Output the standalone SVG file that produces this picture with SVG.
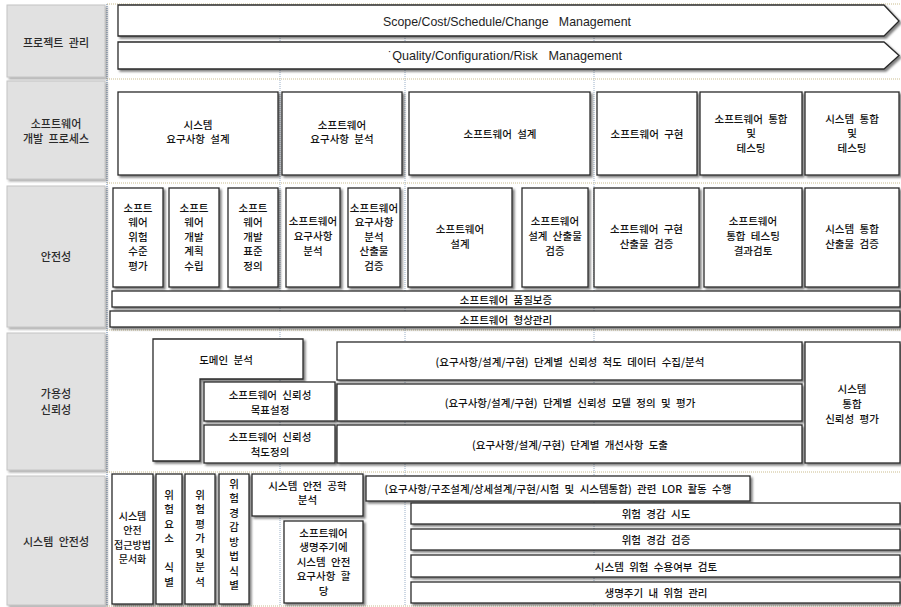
<svg xmlns="http://www.w3.org/2000/svg" width="901" height="607" viewBox="0 0 901 607">
<defs>
<filter id="sh" x="-20%" y="-20%" width="150%" height="150%">
<feDropShadow dx="2" dy="2" stdDeviation="0.8" flood-color="#000" flood-opacity="0.5"/>
</filter>
<filter id="sh2" x="-10%" y="-10%" width="125%" height="125%">
<feDropShadow dx="2" dy="2" stdDeviation="1" flood-color="#555" flood-opacity="0.5"/>
</filter>
</defs>
<style>
.box{fill:#fff;stroke:#2a2a2a;stroke-width:1.3;filter:url(#sh)}
.hdr{fill:#e1e1e1;stroke:#c4c4c4;stroke-width:1;filter:url(#sh2)}
.t{font-family:"Noto Sans CJK KR","Noto Sans",sans-serif;font-size:10.5px;font-weight:500;fill:#111;text-anchor:middle;dominant-baseline:central;word-spacing:3px}
.h{font-family:"Noto Sans CJK KR","Noto Sans",sans-serif;font-size:11px;font-weight:500;fill:#2a2a2a;text-anchor:middle;dominant-baseline:central;word-spacing:3px}
.e{font-family:"Liberation Sans",Arial,sans-serif;font-size:13px;fill:#1e1e1e;text-anchor:middle;dominant-baseline:central}
.gv{stroke:#9bb0c8;stroke-width:1;stroke-dasharray:1 1;fill:none}
.gv0{stroke:#5a7ca8;stroke-width:1;stroke-dasharray:1 1;fill:none}
.gh{stroke:#cbbd8e;stroke-width:1;stroke-dasharray:1 1;fill:none}
</style>
<rect width="901" height="607" fill="#fff"/>
<g id="connectors">
<line class="gv0" x1="107" y1="4" x2="107" y2="606"/>
<line class="gv" x1="280" y1="4" x2="280" y2="606"/>
<line class="gv" x1="405" y1="4" x2="405" y2="606"/>
<line class="gv" x1="594" y1="4" x2="594" y2="606"/>
<line class="gh" x1="107" y1="4" x2="900" y2="4"/>
<line class="gh" x1="107" y1="79" x2="900" y2="79"/>
<line class="gh" x1="107" y1="183" x2="900" y2="183"/>
<line class="gh" x1="107" y1="330" x2="900" y2="330"/>
<line class="gh" x1="107" y1="472" x2="900" y2="472"/>
<line class="gh" x1="107" y1="606" x2="900" y2="606"/>
</g>
<g id="hdr-project"><rect class="hdr" x="7" y="5" width="98" height="72"/><text class="h" x="56" y="42">프로젝트 관리</text></g>
<g id="hdr-process"><rect class="hdr" x="7" y="81" width="98" height="98"/><text class="h" x="56" y="123">소프트웨어</text><text class="h" x="56" y="137.5">개발 프로세스</text></g>
<g id="hdr-safety"><rect class="hdr" x="7" y="186" width="98" height="141"/><text class="h" x="56" y="256">안전성</text></g>
<g id="hdr-reliability"><rect class="hdr" x="7" y="333" width="98" height="137"/><text class="h" x="56" y="393">가용성</text><text class="h" x="56" y="409">신뢰성</text></g>
<g id="hdr-syssafety"><rect class="hdr" x="7" y="476" width="98" height="129"/><text class="h" x="56" y="541">시스템 안전성</text></g>

<g id="pm-scope"><polygon class="box" points="118,5 884,5 899,21 884,36 118,36"/><text class="e" x="507" y="21" xml:space="preserve" textLength="248" lengthAdjust="spacingAndGlyphs">Scope/Cost/Schedule/Change   Management</text></g>
<g id="pm-quality"><polygon class="box" points="118,42 884,42 899,55.5 884,69 118,69"/><text class="e" x="505" y="55" xml:space="preserve" textLength="234" lengthAdjust="spacingAndGlyphs">˙Quality/Configuration/Risk   Management</text></g>

<g id="p-sysreq"><rect class="box" x="118" y="92" width="160" height="83"/><text class="t" x="198" y="124">시스템</text><text class="t" x="198" y="138.5">요구사항 설계</text></g>
<g id="p-swreq"><rect class="box" x="282" y="92" width="120" height="83"/><text class="t" x="342" y="124">소프트웨어</text><text class="t" x="342" y="138.5">요구사항 분석</text></g>
<g id="p-swdesign"><rect class="box" x="409" y="92" width="181" height="83"/><text class="t" x="500" y="133">소프트웨어 설계</text></g>
<g id="p-swimpl"><rect class="box" x="597" y="92" width="100" height="83"/><text class="t" x="647" y="133">소프트웨어 구현</text></g>
<g id="p-swint"><rect class="box" x="700" y="92" width="102" height="83"/><text class="t" x="751" y="118">소프트웨어 통합</text><text class="t" x="751" y="132.5">및</text><text class="t" x="751" y="147">테스팅</text></g>
<g id="p-sysint"><rect class="box" x="805" y="92" width="94" height="83"/><text class="t" x="852" y="118">시스템 통합</text><text class="t" x="852" y="132.5">및</text><text class="t" x="852" y="147">테스팅</text></g>

<g id="s-risk"><rect class="box" x="113" y="188" width="50" height="99"/><text class="t" x="138" y="207">소프트</text><text class="t" x="138" y="221.5">웨어</text><text class="t" x="138" y="236">위험</text><text class="t" x="138" y="250.5">수준</text><text class="t" x="138" y="265">평가</text></g>
<g id="s-plan"><rect class="box" x="169" y="188" width="50" height="99"/><text class="t" x="194" y="207">소프트</text><text class="t" x="194" y="221.5">웨어</text><text class="t" x="194" y="236">개발</text><text class="t" x="194" y="250.5">계획</text><text class="t" x="194" y="265">수립</text></g>
<g id="s-std"><rect class="box" x="228" y="188" width="50" height="99"/><text class="t" x="253" y="207">소프트</text><text class="t" x="253" y="221.5">웨어</text><text class="t" x="253" y="236">개발</text><text class="t" x="253" y="250.5">표준</text><text class="t" x="253" y="265">정의</text></g>
<g id="s-req"><rect class="box" x="286" y="188" width="54" height="99"/><text class="t" x="313" y="220">소프트웨어</text><text class="t" x="313" y="235">요구사항</text><text class="t" x="313" y="250">분석</text></g>
<g id="s-reqv"><rect class="box" x="348" y="188" width="52" height="99"/><text class="t" x="374" y="207">소프트웨어</text><text class="t" x="374" y="221.5">요구사항</text><text class="t" x="374" y="236">분석</text><text class="t" x="374" y="250.5">산출물</text><text class="t" x="374" y="265">검증</text></g>
<g id="s-design"><rect class="box" x="408" y="188" width="104" height="99"/><text class="t" x="460" y="228">소프트웨어</text><text class="t" x="460" y="243">설계</text></g>
<g id="s-designv"><rect class="box" x="522" y="188" width="66" height="99"/><text class="t" x="555" y="220">소프트웨어</text><text class="t" x="555" y="235">설계 산출물</text><text class="t" x="555" y="250">검증</text></g>
<g id="s-implv"><rect class="box" x="594" y="188" width="105" height="99"/><text class="t" x="646.5" y="228">소프트웨어 구현</text><text class="t" x="646.5" y="243">산출물 검증</text></g>
<g id="s-intv"><rect class="box" x="704" y="188" width="98" height="99"/><text class="t" x="753" y="220">소프트웨어</text><text class="t" x="753" y="235">통합 테스팅</text><text class="t" x="753" y="250">결과검토</text></g>
<g id="s-sysintv"><rect class="box" x="805" y="188" width="94" height="99"/><text class="t" x="852" y="228">시스템 통합</text><text class="t" x="852" y="243">산출물 검증</text></g>
<g id="s-qa"><rect class="box" x="112" y="291" width="788" height="16"/><text class="t" x="506" y="299">소프트웨어 품질보증</text></g>
<g id="s-cm"><rect class="box" x="110" y="311" width="790" height="16"/><text class="t" x="506" y="319">소프트웨어 형상관리</text></g>

<g id="r-domain"><polygon class="box" points="153,339 303,339 303,379 200,379 200,461 153,461"/><text class="t" x="226" y="359">도메인 분석</text></g>
<g id="r-goal"><rect class="box" x="204" y="382" width="131" height="39"/><text class="t" x="270" y="394">소프트웨어 신뢰성</text><text class="t" x="270" y="409">목표설정</text></g>
<g id="r-metric"><rect class="box" x="204" y="425" width="131" height="38"/><text class="t" x="270" y="436.5">소프트웨어 신뢰성</text><text class="t" x="270" y="451.5">척도정의</text></g>
<g id="r-data"><rect class="box" x="337" y="342" width="465" height="38"/><text class="t" x="570" y="361">(요구사항/설계/구현) 단계별 신뢰성 척도 데이터 수집/분석</text></g>
<g id="r-model"><rect class="box" x="337" y="384" width="465" height="37"/><text class="t" x="570" y="402.5">(요구사항/설계/구현) 단계별 신뢰성 모델 정의 및 평가</text></g>
<g id="r-improve"><rect class="box" x="337" y="425" width="465" height="38"/><text class="t" x="570" y="444">(요구사항/설계/구현) 단계별 개선사항 도출</text></g>
<g id="r-sysrel"><rect class="box" x="805" y="342" width="95" height="121"/><text class="t" x="852" y="388">시스템</text><text class="t" x="852" y="403">통합</text><text class="t" x="852" y="418">신뢰성 평가</text></g>

<g id="y-doc"><rect class="box" x="112" y="474" width="41" height="130"/><text class="t" x="132.5" y="515" style="font-size:10px">시스템</text><text class="t" x="132.5" y="529.5" style="font-size:10px">안전</text><text class="t" x="132.5" y="544" style="font-size:10px">접근방법</text><text class="t" x="132.5" y="558.5" style="font-size:10px">문서화</text></g>
<g id="y-ident"><rect class="box" x="156" y="474" width="26" height="130"/><text class="t" x="169" y="494">위</text><text class="t" x="169" y="508.5">험</text><text class="t" x="169" y="523">요</text><text class="t" x="169" y="537.5">소</text><text class="t" x="169" y="566.5">식</text><text class="t" x="169" y="581">별</text></g>
<g id="y-assess"><rect class="box" x="185" y="474" width="30" height="130"/><text class="t" x="200" y="494">위</text><text class="t" x="200" y="508.5">험</text><text class="t" x="200" y="523">평</text><text class="t" x="200" y="537.5">가</text><text class="t" x="200" y="552">및</text><text class="t" x="200" y="566.5">분</text><text class="t" x="200" y="581">석</text></g>
<g id="y-mitig"><rect class="box" x="219" y="474" width="30" height="130"/><text class="t" x="234" y="483">위</text><text class="t" x="234" y="497.5">험</text><text class="t" x="234" y="512">경</text><text class="t" x="234" y="526.5">감</text><text class="t" x="234" y="541">방</text><text class="t" x="234" y="555.5">법</text><text class="t" x="234" y="570">식</text><text class="t" x="234" y="584.5">별</text></g>
<g id="y-eng"><rect class="box" x="252" y="474" width="111" height="42"/><text class="t" x="307.5" y="485">시스템 안전 공학</text><text class="t" x="307.5" y="499.5">분석</text></g>
<g id="y-alloc"><rect class="box" x="284" y="521" width="79" height="82"/><text class="t" x="323.5" y="532">소프트웨어</text><text class="t" x="323.5" y="546.5">생명주기에</text><text class="t" x="323.5" y="561">시스템 안전</text><text class="t" x="323.5" y="575.5">요구사항 할</text><text class="t" x="323.5" y="590">당</text></g>
<g id="y-lor"><rect class="box" x="366" y="476" width="384" height="25"/><text class="t" x="558" y="488">(요구사항/구조설계/상세설계/구현/시험 및 시스템통합) 관련 LOR 활동 수행</text></g>
<g id="y-try"><rect class="box" x="411" y="503" width="489" height="21"/><text class="t" x="656" y="513.5">위험 경감 시도</text></g>
<g id="y-verify"><rect class="box" x="411" y="529" width="489" height="21"/><text class="t" x="656" y="539.5">위험 경감 검증</text></g>
<g id="y-accept"><rect class="box" x="411" y="555" width="489" height="22"/><text class="t" x="656" y="566">시스템 위험 수용여부 검토</text></g>
<g id="y-life"><rect class="box" x="411" y="582" width="489" height="21"/><text class="t" x="656" y="592.5">생명주기 내 위험 관리</text></g>
</svg>
